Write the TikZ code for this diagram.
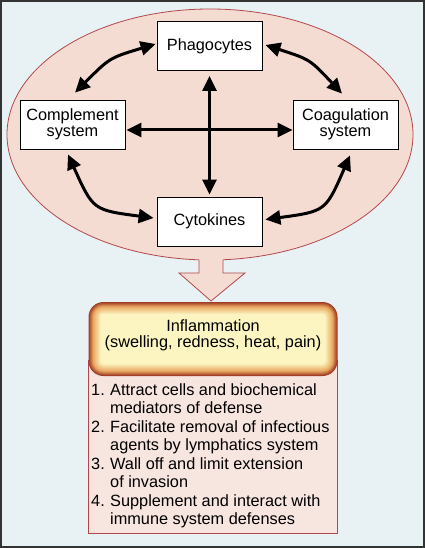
\documentclass[tikz,border=0pt]{standalone}
\usepackage{fontspec}
\setmainfont{Liberation Sans}
\usetikzlibrary{arrows.meta,calc}
\definecolor{bgc}{HTML}{E8F1F3}
\definecolor{ellfill}{HTML}{F5DCD3}
\definecolor{redline}{HTML}{B2474B}
\definecolor{listfill}{HTML}{F7E5E0}
\definecolor{hdrin}{HTML}{FCF5C2}
\definecolor{hdrmid}{HTML}{E9A860}
\definecolor{hdrrim}{HTML}{9E3A25}
\begin{document}
\begin{tikzpicture}[x=1pt,y=-1pt,
  lbl/.style={font=\fontsize{16.3}{16.5}\selectfont, align=center},
  sysbox/.style={draw=black, line width=0.8pt, fill=white, minimum width=105pt, minimum height=49pt, inner sep=0pt, lbl},
  biarrow/.style={line width=3pt, {Triangle[length=15pt,width=14pt]}-{Triangle[length=15pt,width=14pt]}},
  redborder/.style={draw=redline, line width=0.8pt}
]
\useasboundingbox (0,0) rectangle (425,548);
\fill[bgc] (0,0) rectangle (425,548);
\draw[line width=2pt, draw=black!80] (1,1) rectangle (424,547);

% ellipse
\filldraw[fill=ellfill, redborder] (210,134.5) ellipse [x radius=203, y radius=125.5];

% block arrow
\fill[ellfill] (199,250) -- (199,273) -- (179,273) -- (211,301) -- (245,273) -- (223,273) -- (223,250) -- cycle;
\draw[redborder, line join=miter] (199,259.8) -- (199,273) -- (179,273) -- (211,301) -- (245,273) -- (223,273) -- (223,259.8);

% boxes
\node[sysbox] (phag) at (209.5,46) {Phagocytes};
\node[sysbox] (comp) at (72.5,124.5) {Complement\\system};
\node[sysbox] (coag) at (345.5,124.5) {Coagulation\\system};
\node[sysbox] (cyto) at (209.5,221.5) {Cytokines};

% arrows
\draw[biarrow] ($(phag.south)+(0,5)$) -- ($(cyto.north)+(0,-2)$);
\draw[biarrow] ($(comp.east)+(1,5.5)$) -- ($(coag.west)+(0,5.5)$);
\draw[biarrow] ($(phag.west)+(-1,-2)$) .. controls (109.7,57.8) .. ($(comp.north)+(2.5,-7)$);
\draw[biarrow] ($(phag.east)+(3,-1)$) .. controls (309.9,59.4) .. ($(coag.north)+(-3.5,-6)$);
\draw[biarrow] ($(comp.south)+(-4.5,5)$) .. controls (93.1,210.1) .. ($(cyto.west)+(-3,-3.5)$);
\draw[biarrow] ($(coag.south)+(4.5,6)$) .. controls (325.7,211.3) .. ($(cyto.east)+(3,-2)$);

% inflammation list box
\filldraw[fill=listfill, redborder] (88.5,360) rectangle (337,533.5);
% header with inner shading
\foreach \i in {0,...,16}{
  \pgfmathsetmacro{\dd}{0.75*\i}
  \pgfmathsetmacro{\rr}{max(2,15-\dd)}
  \ifnum\i<7 \pgfmathtruncatemacro{\pp}{\i*100/6}\colorlet{hc}{hdrmid!\pp!hdrrim}\else \pgfmathtruncatemacro{\pp}{(\i-6)*10}\colorlet{hc}{hdrin!\pp!hdrmid}\fi
  \fill[hc, rounded corners=\rr pt] (88.5+\dd,302+\dd) rectangle (337.5-\dd,376-\dd);
}
\node[lbl] (hdr) at (213,335.5) {Inflammation\\(swelling, redness, heat, pain)};

\node[anchor=base west, inner sep=0pt, font=\fontsize{16.3}{18.5}\selectfont] (list) at (91,395) {%
\begin{tabular}[t]{@{}p{19pt}@{}l@{}}
1. & Attract cells and biochemical\\
   & mediators of defense\\
2. & Facilitate removal of infectious\\
   & agents by lymphatics system\\
3. & Wall off and limit extension\\
   & of invasion\\
4. & Supplement and interact with\\
   & immune system defenses
\end{tabular}};
\end{tikzpicture}
\end{document}
